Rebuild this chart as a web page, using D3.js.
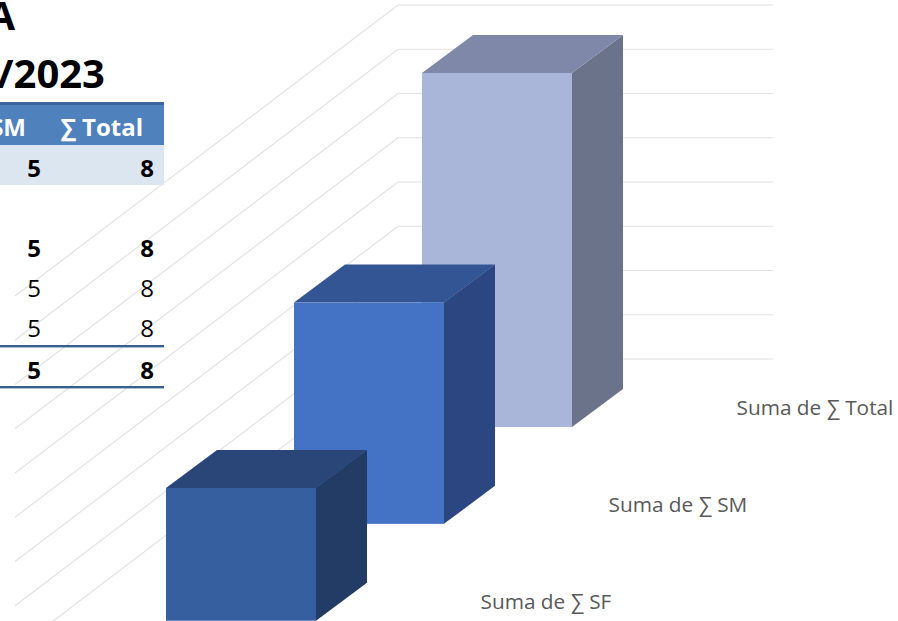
<!DOCTYPE html>
<html><head><meta charset="utf-8">
<script src="https://cdn.jsdelivr.net/npm/d3@7"></script>
<style>html,body{margin:0;background:#fff;overflow:hidden}svg{display:block}text{font-family:"Open Sans","Noto Sans",sans-serif}</style>
</head><body><svg id="c" width="898" height="621"></svg>
<script>
const titleLines = ["A", "/2023"];
const tableHeaders = ["∑ SM", "∑ Total"];
const smColumn = [5, null, 5, 5, 5, 5];
const totalColumn = [8, null, 8, 8, 8, 8];
const rowBold = [true, false, true, false, false, true];
const seriesNames = ["Suma de ∑ Total", "Suma de ∑ SM", "Suma de ∑ SF"];
const seriesValues = [8, 5, 3];
const frontColors = ["#a9b6da", "#4472c4", "#365fa0"];
const topColors = ["#7f88a8", "#335593", "#2a4678"];
const sideColors = ["#6a7389", "#2b4680", "#223c66"];
const valueTicks = [0, 1, 2, 3, 4, 5, 6, 7, 8];

const svg = d3.select("#c");
const y = d3.scaleLinear().domain([0, 8]).range([359, 5]);
const depthX = d3.scaleLinear().domain([0, 2]).range([422, 166]);
const depthY = d3.scaleLinear().domain([0, 2]).range([427, 620.7]);
const barW = 150, dx = 51, dy = 38;

// table
const rowY = d3.scaleOrdinal().domain(d3.range(6)).range([168, 208, 248, 288, 328, 370]);
const t = svg.append("g");
t.append("rect").attr("x", 0).attr("y", 105).attr("width", 164).attr("height", 40).attr("fill", "#4f81bd");
t.append("rect").attr("x", 0).attr("y", 102).attr("width", 164).attr("height", 3).attr("fill", "#3b659b");
t.append("rect").attr("x", 0).attr("y", 145).attr("width", 164).attr("height", 40).attr("fill", "#dce6f1");

// gridlines
const defs = svg.append("defs");
defs.append("clipPath").attr("id", "gridClip").append("path").attr("d", "M164,0H898V621H0V185H164Z");
const g = svg.append("g").attr("fill", "none").attr("stroke", "#e2e2e2").attr("stroke-width", 1.2);
g.selectAll(".h").data(valueTicks).join("line").attr("x1", 398).attr("x2", 773)
  .attr("y1", d => y(d)).attr("y2", d => y(d));
g.selectAll(".d").data(valueTicks).join("path")
  .attr("d", d => `M398,${y(d)}L15,${y(d) + (398 - 15) * 0.76}`)
  .attr("clip-path", "url(#gridClip)");

// rules over the table
const ruleG = svg.append("g").attr("fill", "#366092");
ruleG.append("rect").attr("x", 0).attr("y", 345).attr("width", 164).attr("height", 2.4);
ruleG.append("rect").attr("x", 0).attr("y", 386).attr("width", 164).attr("height", 2.4);

// bars
const bars = svg.append("g").selectAll("g").data(seriesValues).join("g");
bars.append("path").attr("fill", (d, i) => sideColors[i]).attr("d", (d, i) => {
  const x1 = depthX(i) + barW, b = depthY(i), top = b - (y(0) - y(d));
  return `M${x1},${top}L${x1 + dx},${top - dy}V${b - dy}L${x1},${b}Z`;
});
bars.append("path").attr("fill", (d, i) => topColors[i]).attr("d", (d, i) => {
  const x0 = depthX(i), top = depthY(i) - (y(0) - y(d));
  return `M${x0},${top}L${x0 + dx},${top - dy}H${x0 + barW + dx}L${x0 + barW},${top}Z`;
});
bars.append("rect").attr("fill", (d, i) => frontColors[i])
  .attr("x", (d, i) => depthX(i)).attr("width", barW)
  .attr("y", (d, i) => depthY(i) - (y(0) - y(d))).attr("height", d => y(0) - y(d));

// series labels
svg.append("g").selectAll("text").data(seriesNames).join("text")
  .attr("x", (d, i) => depthX(i) + 314.5).attr("y", (d, i) => depthY(i) - 12)
  .attr("font-size", 20.8).attr("fill", "#595959").text(d => d);

// title
svg.append("g").selectAll("text").data(titleLines).join("text")
  .attr("text-anchor", "end").attr("font-weight", 700).attr("font-size", 40).attr("fill", "#000")
  .attr("x", (d, i) => i === 0 ? 15 : 105).attr("y", (d, i) => i === 0 ? 30 : 88).text(d => d);

// header
svg.append("g").selectAll("text").data(tableHeaders).join("text")
  .attr("text-anchor", "end").attr("font-weight", 700).attr("font-size", 24).attr("fill", "#fff")
  .attr("x", (d, i) => i === 0 ? 26 : 143).attr("y", 136).text(d => d);

// cells
const cells = svg.append("g").attr("fill", "#000").attr("font-size", 24).attr("text-anchor", "end");
[[smColumn, 41], [totalColumn, 154]].forEach(([col, x]) => {
  cells.append("g").selectAll("text").data(col).join("text")
    .attr("x", x).attr("y", (d, i) => rowY(i) + 8.5)
    .attr("font-weight", (d, i) => rowBold[i] ? 700 : 400)
    .text(d => d === null ? "" : d);
});
</script></body></html>
